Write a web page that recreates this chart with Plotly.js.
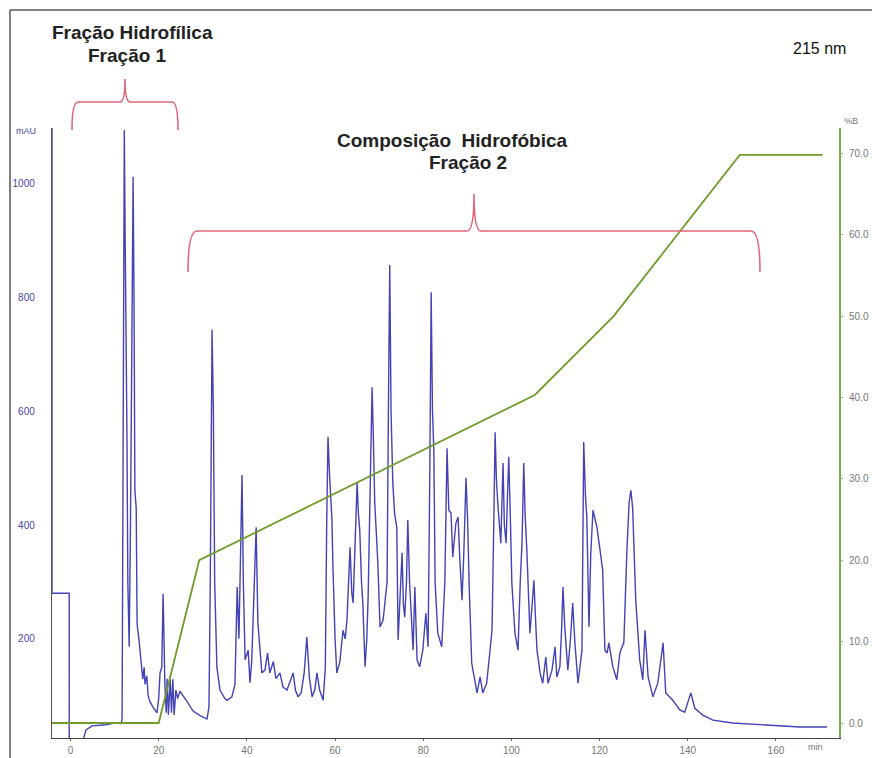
<!DOCTYPE html>
<html>
<head>
<meta charset="utf-8">
<script src="https://cdn.plot.ly/plotly-3.0.1.min.js"></script>
<style>
html,body{margin:0;padding:0;background:#fff;}
#chart{width:872px;height:758px;}
</style>
</head>
<body>
<div id="chart"></div>
<script>
// ---- data ----
const uvTime = [
-4.2,-4.2,-0.3,-0.3,2.8,3.5,4.9,8,10,11.5,
11.7,12.0,12.2,12.4,12.6,12.8,13.0,13.3,13.6,14.0,14.2,14.4,14.6,14.9,15.1,15.5,15.8,16.2,16.4,16.7,16.9,17.3,17.6,18.0,18.7,19.6,
20.0,20.3,20.7,21.0,21.2,21.4,21.7,21.9,22.2,22.6,22.9,23.2,23.5,23.9,24.3,24.8,26.4,27.8,29.4,30.95,
31.4,31.7,32.1,32.4,32.7,33.2,33.9,35.0,35.5,36.6,37.3,37.8,38.2,38.9,39.2,39.6,40.3,40.7,41.1,41.4,42.1,42.5,43.0,43.4,44.1,44.7,45.2,46.0,46.6,47.5,48.2,49.1,49.8,
50.5,51.0,51.6,52.3,53.0,53.6,54.2,54.8,55.4,55.9,56.5,57.3,57.8,58.1,58.4,58.8,59.3,59.5,60.0,60.4,61.1,61.8,62.3,62.7,63.1,63.4,63.8,64.1,64.6,65.0,65.3,65.6,66.0,66.3,66.8,67.2,67.5,67.9,68.4,68.7,69.0,69.4,69.7,
70.2,70.9,71.3,71.8,72.1,72.4,72.7,73.1,73.5,74.0,74.3,74.8,75.2,75.5,75.8,76.2,76.5,76.9,77.4,77.7,78.1,78.4,78.6,79.2,79.9,
80.6,81.1,81.5,81.8,82.1,82.4,82.7,83.3,84.2,84.9,85.4,85.8,86.3,86.7,87.4,87.9,88.3,88.8,89.2,89.7,90.1,90.4,91.0,91.7,92.2,92.9,93.5,94.4,95.1,95.6,96.0,96.3,96.6,96.9,97.6,98.1,98.4,98.8,99.1,99.4,99.8,
100.1,100.8,101.5,102.0,102.4,102.8,103.1,103.5,104.2,104.7,105.1,105.5,105.8,106.5,107.1,107.8,108.3,109.2,109.9,110.3,111.0,111.4,111.7,112.1,112.8,113.4,113.9,114.4,115.1,116.0,116.2,116.4,116.8,117.1,117.6,118.0,118.5,119.4,
120.1,120.7,121.2,121.7,122.1,123.0,123.9,124.6,125.1,125.5,126.2,126.7,127.1,127.5,128.2,129.1,129.8,130.3,131.0,132.1,133.2,134.4,135.0,135.9,136.6,138.2,139.3,140.7,141.6,143.4,145.7,150.2,157.9,165.4,171.6
];
const uvAbs = [
1200,280,280,0,20,40,47,49,52,51,
60,900,1094,900,620,560,300,186,400,900,1012,800,460,430,226,200,172,140,129,150,120,135,100,90,80,70,
95,140,150,279,200,120,70,130,66,129,70,129,66,110,95,108,90,73,65,59,
80,300,743,600,300,150,110,95,92,98,120,291,200,488,300,163,180,123,160,221,396,228,180,140,145,175,140,160,130,140,115,110,125,
140,110,98,105,140,203,130,98,110,140,110,92,150,400,555,480,409,333,200,140,160,215,200,233,300,361,280,263,380,474,420,391,300,263,151,200,273,450,642,550,439,380,333,
221,233,263,300,600,857,600,474,420,396,198,300,351,260,238,300,409,300,238,180,291,200,163,151,180,
245,186,500,809,600,532,298,210,186,300,535,426,421,344,403,414,340,268,350,483,400,298,157,122,105,133,105,122,180,215,400,563,480,439,368,509,400,368,450,520,400,
298,210,180,300,368,509,420,356,210,260,303,230,180,140,122,168,122,145,186,133,151,220,291,221,145,200,263,193,122,180,350,546,450,414,221,350,426,396,
356,321,180,175,193,151,128,175,186,193,356,440,461,430,268,163,128,215,133,98,122,193,105,98,92,75,71,105,78,66,57,52,48,45,45
];
const gradTime = [-4.2, 20, 29.2, 105.3, 123.2, 151.8, 170.6];
const gradB    = [0, 0, 20, 40.3, 50, 69.8, 69.8];

const xTicks = [0, 20, 40, 60, 80, 100, 120, 140, 160];
const leftTicks = [200, 400, 600, 800, 1000];
const rightTicks = [0, 10, 20, 30, 40, 50, 60, 70];
const rightTickText = ['0.0','10.0','20.0','30.0','40.0','50.0','60.0','70.0'];

// ---- layout helpers (pixel -> paper) ----
const L = 52, R = 839, T = 128, B = 738;
const W = 872, H = 758;
function px(x){ return (x - L) / (R - L); }
function py(y){ return (B - y) / (B - T); }
function path(cmds){
  return cmds.map(c => c[0] + ' ' + c.slice(1).reduce((acc, v, i, arr) => {
    if (i % 2 === 0) acc.push(px(v).toFixed(5) + ',' + py(arr[i+1]).toFixed(5));
    return acc;
  }, []).join(' ')).join(' ');
}

const brace1 = path([['M',72,130],['Q',72,102,78,102],['L',120,102],['Q',125,102,125,79],['Q',125,102,130,102],['L',172,102],['Q',178,102,178,130]]);
const brace2 = path([['M',188,272],['Q',188,231,197,231],['L',467,231],['Q',474,231,474,194],['Q',474,231,481,231],['L',751,231],['Q',760,231,760,272]]);

const braceColor = '#e2677a';
const textFont = {family: 'Liberation Sans, Arial, sans-serif', size: 19, color: '#222'};

function ann(text, x, y, font, xanchor){
  return {text: text, xref: 'paper', yref: 'paper', x: px(x), y: py(y), showarrow: false,
          xanchor: xanchor || 'center', yanchor: 'middle', font: font};
}

const traces = [
  {x: uvTime, y: uvAbs, type: 'scatter', mode: 'lines', yaxis: 'y',
   line: {color: '#4343b4', width: 1.4}, hoverinfo: 'skip'},
  {x: gradTime, y: gradB, type: 'scatter', mode: 'lines', yaxis: 'y2',
   line: {color: '#6f9d2c', width: 1.8}, hoverinfo: 'skip'}
];

const tickFont = {family: 'Liberation Sans, Arial, sans-serif', size: 10, color: '#777'};

const layout = {
  width: W, height: H,
  margin: {l: L, r: W - R, t: T, b: H - B, pad: 0},
  paper_bgcolor: '#ffffff', plot_bgcolor: '#ffffff',
  showlegend: false,
  xaxis: {range: [-4.2, 174.3], tickvals: xTicks, showgrid: false, zeroline: false,
          showline: true, linecolor: '#444', linewidth: 1.2, ticks: 'outside', ticklen: 2, tickcolor: '#666',
          tickfont: tickFont, ticklabelstandoff: 1},
  yaxis: {range: [25.7, 1097.7], tickvals: leftTicks, showgrid: false, zeroline: false,
          showline: true, linecolor: '#555', linewidth: 1.2, ticks: '',
          tickfont: {family: 'Liberation Sans, Arial, sans-serif', size: 10, color: '#4646a8'},
          ticklabelstandoff: 14},
  yaxis2: {range: [-1.84, 73.1], overlaying: 'y', side: 'right', tickvals: rightTicks, ticktext: rightTickText,
           showgrid: false, zeroline: false, showline: true, linecolor: '#78a84a', linewidth: 2,
           ticks: 'outside', ticklen: 2, tickcolor: '#9ab87a', tickfont: tickFont, ticklabelstandoff: 4},
  shapes: [
    {type: 'path', xref: 'paper', yref: 'paper', path: brace1, line: {color: braceColor, width: 1.6}},
    {type: 'path', xref: 'paper', yref: 'paper', path: brace2, line: {color: braceColor, width: 1.6}},
    {type: 'line', xref: 'paper', yref: 'paper', x0: px(10), y0: py(10), x1: px(872), y1: py(10), line: {color: '#555', width: 1.5}},
    {type: 'line', xref: 'paper', yref: 'paper', x0: px(10), y0: py(10), x1: px(10), y1: py(758), line: {color: '#555', width: 1.5}}
  ],
  annotations: [
    ann('<b>Fração Hidrofílica</b>', 132, 33, textFont),
    ann('<b>Fração 1</b>', 127, 56, textFont),
    ann('<b>Composição  Hidrofóbica</b>', 452, 140, textFont),
    ann('<b>Fração 2</b>', 468, 163, textFont),
    ann('215 nm', 819, 48, {family: 'Liberation Sans, Arial, sans-serif', size: 16, color: '#111'}),
    ann('mAU', 26, 131, {family: 'Liberation Sans, Arial, sans-serif', size: 9, color: '#4646a8'}),
    ann('%B', 851, 121, {family: 'Liberation Sans, Arial, sans-serif', size: 9, color: '#777'}),
    ann('min', 815, 747, {family: 'Liberation Sans, Arial, sans-serif', size: 9, color: '#777'})
  ]
};

Plotly.newPlot('chart', traces, layout, {staticPlot: true, displayModeBar: false});
</script>
</body>
</html>
